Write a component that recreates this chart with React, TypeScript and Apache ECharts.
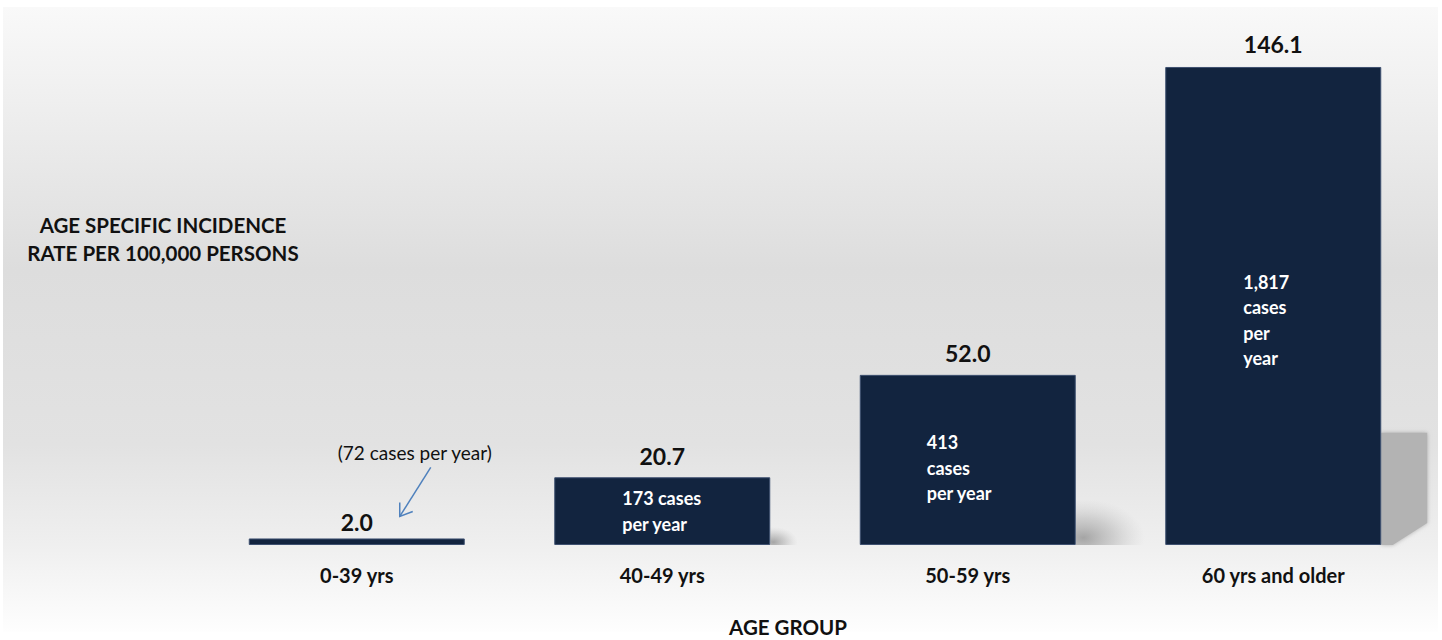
import React, { useEffect, useRef } from "react";
import * as echarts from "echarts";

const categories = ["0-39 yrs", "40-49 yrs", "50-59 yrs", "60 yrs and older"];
const rates = [2.0, 20.7, 52.0, 146.1];
const caseLabels = ["", "173 cases\nper year", "413\ncases\nper year", "1,817\ncases\nper\nyear"];
const annotationText = "(72 cases per year)";
const yTitle = "AGE SPECIFIC INCIDENCE\nRATE PER 100,000 PERSONS";
const xTitle = "AGE GROUP";

const FONT = "Lato, 'Open Sans', sans-serif";
const BAR_COLOR = "#12243f";

export default function App() {
  const ref = useRef<HTMLDivElement>(null);
  useEffect(() => {
    if (!ref.current) return;
    const chart = echarts.init(ref.current, undefined, { renderer: "svg" });
    const labelOffsets = [[0, 0], [-40, 0], [-41, 8], [-30, 14]];
    const topDistances = [5, 10, 10, 11];
    const option: any = {
      animation: false,
      backgroundColor: "#ffffff",
      grid: { left: 204, right: 16, top: 21.5, bottom: 95 },
      xAxis: {
        type: "category",
        data: categories,
        axisLine: { show: false },
        axisTick: { show: false },
        axisLabel: { fontFamily: FONT, fontWeight: "bold", fontSize: 20, color: "#111", margin: 20 },
      },
      yAxis: { type: "value", min: 0, max: 160, show: false, splitLine: { show: false } },
      series: [
        {
          type: "custom",
          z: 1,
          data: rates.map((v, i) => [i, v]),
          renderItem: (params: any, api: any) => {
            const i = api.value(0);
            const v = api.value(1);
            const top = api.coord([i, v]);
            const base = api.coord([i, 0]);
            const bw = api.size([1, 0])[0] * 0.707;
            const xr = top[0] + bw / 2;
            const barH = base[1] - top[1];
            const h = barH * 0.235;
            const w = 46;
            if (h < 3) return null;
            const y0 = base[1];
            if (h > 60) {
              return {
                type: "polygon",
                shape: {
                  points: [
                    [xr, y0],
                    [xr, y0 - h],
                    [xr + w, y0 - h],
                    [xr + w, y0 - 22],
                    [xr + w * 0.25, y0],
                  ],
                },
                style: {
                  fill: "#b3b3b3",
                  shadowBlur: 4,
                  shadowColor: "rgba(170,170,170,0.9)",
                },
              };
            }
            const s = h * 1.2;
            return {
              type: "rect",
              x: xr,
              y: y0,
              scaleX: 1.6,
              shape: { x: 0, y: -s, width: s, height: s },
              style: {
                fill: new echarts.graphic.RadialGradient(0.1, 0.85, 0.8, [
                  { offset: 0, color: "rgba(140,140,140,0.75)" },
                  { offset: 0.5, color: "rgba(160,160,160,0.4)" },
                  { offset: 1, color: "rgba(190,190,190,0)" },
                ]),
              },
            };
          },
        },
        {
          type: "bar",
          z: 2,
          data: rates.map((v, i) => ({
            value: v,
            label: { distance: topDistances[i] },
          })),
          barWidth: 216,
          itemStyle: { color: BAR_COLOR, borderColor: "#3e5070", borderWidth: 1 },
          label: {
            show: true,
            position: "top",
            fontFamily: FONT,
            fontWeight: "bold",
            fontSize: 23,
            color: "#111",
            formatter: (p: any) => Number(p.value).toFixed(1),
          },
        },
        {
          type: "bar",
          z: 3,
          barGap: "-100%",
          barWidth: 216,
          data: rates.map((v, i) => ({
            value: v,
            label: {
              show: caseLabels[i] !== "",
              offset: labelOffsets[i],
            },
          })),
          itemStyle: { color: "rgba(0,0,0,0)" },
          label: {
            position: "inside",
            align: "left",
            verticalAlign: "middle",
            fontFamily: FONT,
            fontWeight: "bold",
            fontSize: 18,
            lineHeight: 25.5,
            color: "#ffffff",
            formatter: (p: any) => caseLabels[p.dataIndex],
          },
        },
      ],
    };
    chart.setOption(option);

    const p0 = chart.convertToPixel({ seriesIndex: 1 }, [0, rates[0]]) as number[];
    chart.setOption({
      graphic: [
        {
          type: "rect",
          z: -10,
          silent: true,
          shape: { x: 3, y: 7, width: 1435, height: 625 },
          style: {
            fill: new echarts.graphic.LinearGradient(0, 0, 0, 1, [
              { offset: 0, color: "#f9f9f9" },
              { offset: 0.42, color: "#dddddd" },
              { offset: 0.7, color: "#e2e2e2" },
              { offset: 0.86, color: "#efefef" },
              { offset: 1, color: "#fefefe" },
            ]),
          },
        },
        {
          type: "text",
          x: 163,
          y: 239,
          style: {
            text: yTitle,
            fontFamily: FONT,
            fontWeight: "bold",
            fontSize: 20.5,
            lineHeight: 28,
            align: "center",
            verticalAlign: "middle",
            fill: "#111",
          },
        },
        {
          type: "text",
          x: 788,
          y: 627,
          style: {
            text: xTitle,
            fontFamily: FONT,
            fontWeight: "bold",
            fontSize: 20.5,
            align: "center",
            verticalAlign: "middle",
            fill: "#111",
          },
        },
        {
          type: "text",
          x: p0[0] + 58,
          y: p0[1] - 86,
          style: {
            text: annotationText,
            fontFamily: FONT,
            fontSize: 19,
            align: "center",
            verticalAlign: "middle",
            fill: "#111",
          },
        },
        {
          type: "line",
          shape: { x1: p0[0] + 74, y1: p0[1] - 71, x2: p0[0] + 43, y2: p0[1] - 22 },
          style: { stroke: "#4f81bd", lineWidth: 1.5 },
        },
        {
          type: "polyline",
          shape: {
            points: [
              [p0[0] + 43, p0[1] - 36],
              [p0[0] + 43, p0[1] - 22],
              [p0[0] + 56, p0[1] - 27],
            ],
          },
          style: { stroke: "#4f81bd", lineWidth: 1.5, fill: "none" },
        },
      ],
    });
    return () => chart.dispose();
  }, []);
  return (
    <div
      ref={ref}
      style={{ position: "absolute", left: 0, top: 0, width: 1442, height: 640 }}
    />
  );
}
